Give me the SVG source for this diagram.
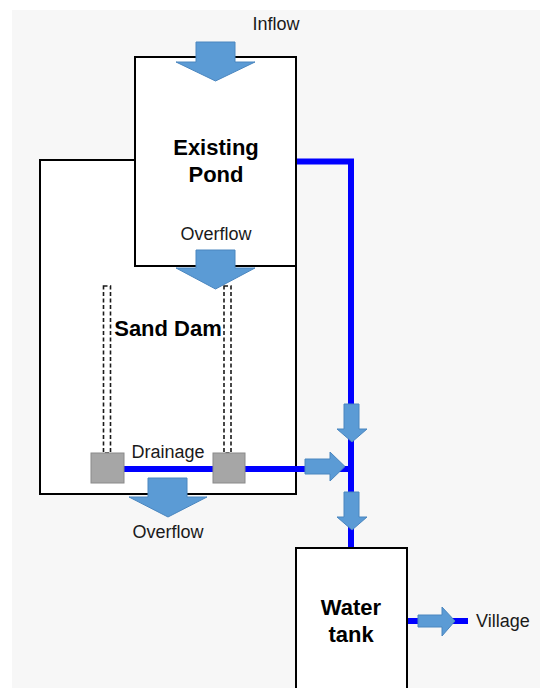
<svg xmlns="http://www.w3.org/2000/svg" width="540" height="688" viewBox="0 0 540 688">
<style>
.box{fill:#ffffff;stroke:#000000;stroke-width:2}
.pipe{fill:none;stroke:#0000ff;stroke-width:6}
.flow{fill:#5b9bd5;stroke:#4a86bf;stroke-width:1}
.well{fill:#ffffff;stroke:#1a1a1a;stroke-width:1.6;stroke-dasharray:4 2.5}
.sump{fill:#a6a6a6;stroke:#8a8a8a;stroke-width:1}
.lbl{font-family:"Liberation Sans",Arial,sans-serif;font-size:18px;fill:#1a1a1a;text-anchor:middle}
.title{font-family:"Liberation Sans",Arial,sans-serif;font-size:22px;font-weight:bold;fill:#000000;text-anchor:middle}
</style>
<rect x="12" y="10" width="528" height="678" fill="#f7f7f7"/>
<g id="sand-dam">
<rect class="box" x="40" y="160" width="256" height="334"/>
</g>
<g id="connectors">
<polyline class="pipe" points="124,469 213,469"/>
<polyline class="pipe" points="245,469 352,469"/>
<polyline class="pipe" points="296,161.5 351,161.5 351,548"/>
<polyline class="pipe" points="407,621 468,621"/>
</g>
<g id="well-left">
<rect class="well" x="103.5" y="286" width="7" height="167"/>
<rect class="sump" x="91" y="453" width="33" height="30"/>
</g>
<g id="well-right">
<rect class="well" x="224" y="286" width="7" height="167"/>
<rect class="sump" x="213" y="453" width="32" height="30"/>
</g>
<g id="existing-pond">
<rect class="box" x="135" y="57" width="161" height="209"/>
<text class="title" x="216" y="155">Existing</text>
<text class="title" x="216" y="182">Pond</text>
</g>
<g id="water-tank">
<rect class="box" x="296" y="548" width="111" height="150"/>
<text class="title" x="351" y="615">Water</text>
<text class="title" x="351" y="642">tank</text>
</g>
<g id="flow-arrows">
<polygon class="flow" points="196,42 235,42 235,62 255,62 215.5,81 176,62 196,62"/>
<polygon class="flow" points="196,250 235,250 235,268 255,268 215.5,289 176,268 196,268"/>
<polygon class="flow" points="148,478 187,478 187,497 207,497 168,517 129,497 148,497"/>
<polygon class="flow" points="344,404 359,404 359,429 367,429 352,442 337,429 344,429"/>
<polygon class="flow" points="344,492 359,492 359,517 367,517 352,530 337,517 344,517"/>
<polygon class="flow" points="305,459 330,459 330,452 345,466.5 330,481 330,474 305,474"/>
<polygon class="flow" points="418,615 442,615 442,607 455,621 442,636 442,627 418,627"/>
</g>
<g id="labels">
<text class="lbl" x="276" y="30">Inflow</text>
<text class="lbl" x="216" y="240">Overflow</text>
<text class="title" x="168" y="336">Sand Dam</text>
<text class="lbl" x="168" y="458">Drainage</text>
<text class="lbl" x="168" y="538">Overflow</text>
<text class="lbl" x="476" y="627" style="text-anchor:start">Village</text>
</g>
</svg>
